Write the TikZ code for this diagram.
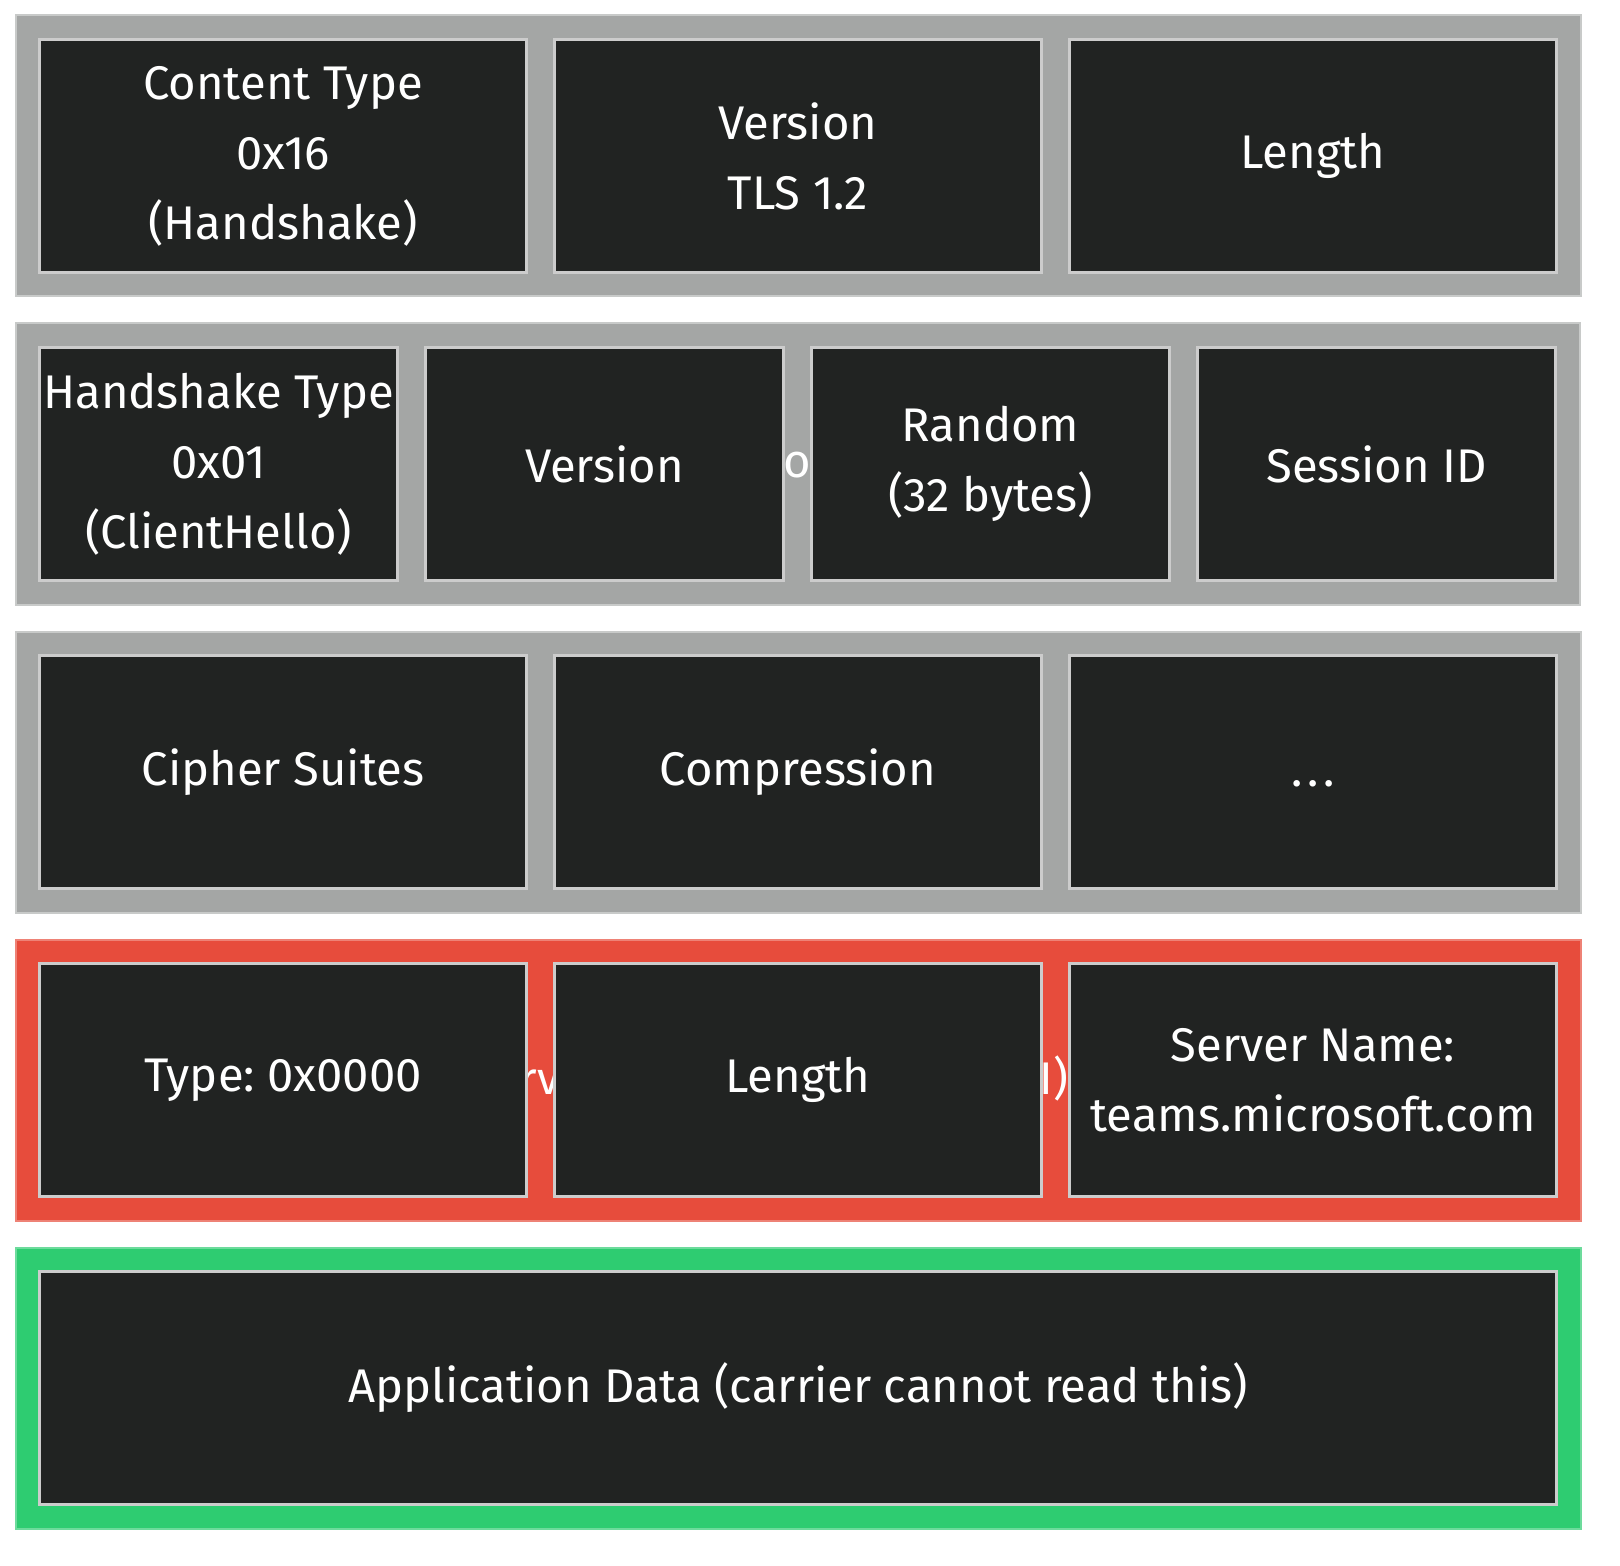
\documentclass[tikz,border=0pt]{standalone}
\usepackage{fontspec}
\setmainfont{Fira Sans}
\usetikzlibrary{fit}
\usetikzlibrary{backgrounds}
\usetikzlibrary{positioning}
\definecolor{fieldfill}{HTML}{212322}
\definecolor{fieldline}{HTML}{CCCCCC}
\definecolor{rowgray}{HTML}{A4A6A5}
\definecolor{rowred}{HTML}{E74C3C}
\definecolor{rowgreen}{HTML}{2ECC71}
\newlength\sniwidth
\frenchspacing

\begin{document}
% width of the visible part of the hidden sni title
\settowidth\sniwidth{\fontsize{23.6}{35}\selectfont ver Name Indication (SNI)}
\begin{tikzpicture}

\tikzstyle{field}=[draw=fieldline, line width=1.5pt, fill=fieldfill, text=white,
align=center, outer sep=0pt, inner xsep=1pt, minimum height=116.5pt,
font=\fontsize{23.6}{35}\selectfont]
\tikzstyle{wide}=[field, minimum width=243.5pt]
\tikzstyle{narrow}=[field, minimum width=179pt]
\tikzstyle{full}=[field, minimum width=758.5pt]
\tikzstyle{layer}=[line width=1pt, inner sep=12pt]
\tikzstyle{layerlabel}=[text=white, inner sep=0pt, font=\fontsize{23.6}{35}\selectfont]

\useasboundingbox (0,0) rectangle (810pt,-783pt);

% record header
\node[wide, anchor=north west] (ctype) at (19.75pt,-19.75pt) {Content Type\\0x16\\(Handshake)};
\node[wide, right=14pt of ctype] (recversion) {Version\\TLS 1.2};
\node[wide, right=14pt of recversion] (reclength) {Length};

% handshake header
\node[narrow, below=37.5pt of ctype.south west, anchor=north west] (hstype) {Handshake Type\\0x01\\(ClientHello)};
\node[narrow, right=14pt of hstype] (hsversion) {Version};
\node[narrow, right=14pt of hsversion] (random) {Random\\(32 bytes)};
\node[narrow, right=14pt of random] (sessionid) {Session ID};

% hello body
\node[wide, below=37.5pt of hstype.south west, anchor=north west] (ciphers) {Cipher Suites};
\node[wide, right=14pt of ciphers] (compression) {Compression};
\node[wide, right=14pt of compression] (more) {\strut.\kern2.5pt.\kern2.5pt.};

% sni extension
\node[wide, below=37.5pt of ciphers.south west, anchor=north west] (exttype) {Type: 0x0000};
\node[wide, right=14pt of exttype] (extlength) {Length};
\node[wide, right=14pt of extlength] (servername) {Server Name:\\teams.microsoft.com};

% payload
\node[full, below=37.5pt of exttype.south west, anchor=north west] (appdata) {Application Data (carrier cannot read this)};

% hidden row titles, mostly covered by the fields
\pgfmathsetmacro\snisize{23.6*265.5/\sniwidth}

\begin{scope}[on background layer]
	\node[layer, draw=rowgray!60!white, fill=rowgray, fit=(ctype)(reclength)] (recordrow) {};
	\node[layer, draw=rowgray!60!white, fill=rowgray, fit=(hstype)(sessionid)] (handshakerow) {};
	\node[layerlabel] at (handshakerow) {\strut\llap{Handshake Pr}o\rlap{tocol}};
	\node[layer, draw=rowgray!60!white, fill=rowgray, fit=(ciphers)(more)] (bodyrow) {};
	\node[layer, draw=rowred!70!white, fill=rowred, fit=(exttype)(servername)] (snirow) {};
	\node[layerlabel, font=\fontsize{\snisize}{35}\selectfont] at ([xshift=5.25pt]exttype.east |- snirow.center)
		{\strut\llap{Ser}\rlap{ver Name Indication (SNI)}};
	\node[layer, draw=rowgreen!70!white, fill=rowgreen, fit=(appdata)] (payloadrow) {};
\end{scope}
\end{tikzpicture}
\end{document}
